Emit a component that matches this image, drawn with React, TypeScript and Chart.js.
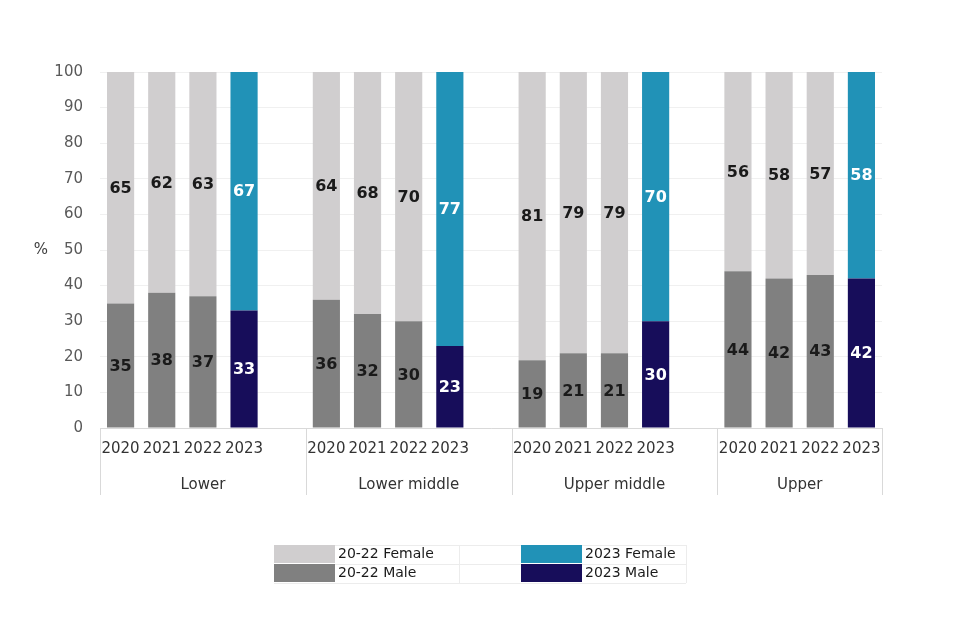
import React, { useEffect, useRef } from "react";
import { Chart, registerables } from "chart.js";

Chart.register(...registerables);

const groups = ["Lower", "Lower middle", "Upper middle", "Upper"];
const years = ["2020", "2021", "2022", "2023"];
const male2020to2022 = [35, 38, 37, 36, 32, 30, 19, 21, 21, 44, 42, 43];
const female2020to2022 = [65, 62, 63, 64, 68, 70, 81, 79, 79, 56, 58, 57];
const male2023 = [33, 23, 30, 42];
const female2023 = [67, 77, 70, 58];
const yTicks = [0, 10, 20, 30, 40, 50, 60, 70, 80, 90, 100];

const FONT = "'DejaVu Sans', sans-serif";

const C_LGREY = "#d0cecf";
const C_GREY = "#808080";
const C_BLUE = "#2192b7";
const C_NAVY = "#170d5a";

// build the category table: 4 years per group + an empty gap slot between groups
const labels: string[] = [];
const groupOf: number[] = [];
const dMale: (number | null)[] = [];
const dFemale: (number | null)[] = [];
const dMale23: (number | null)[] = [];
const dFemale23: (number | null)[] = [];
groups.forEach((g, gi) => {
  years.forEach((y, yi) => {
    labels.push(y);
    groupOf.push(gi);
    if (yi < 3) {
      dMale.push(male2020to2022[gi * 3 + yi]);
      dFemale.push(female2020to2022[gi * 3 + yi]);
      dMale23.push(null);
      dFemale23.push(null);
    } else {
      dMale.push(null);
      dFemale.push(null);
      dMale23.push(male2023[gi]);
      dFemale23.push(female2023[gi]);
    }
  });
  if (gi < groups.length - 1) {
    labels.push("");
    groupOf.push(gi);
    dMale.push(null);
    dFemale.push(null);
    dMale23.push(null);
    dFemale23.push(null);
  }
});

const valueLabels = {
  id: "valueLabels",
  afterDatasetsDraw(chart: any) {
    const ctx = chart.ctx;
    ctx.save();
    ctx.font = `bold 16px ${FONT}`;
    ctx.textAlign = "center";
    ctx.textBaseline = "middle";
    chart.data.datasets.forEach((ds: any, di: number) => {
      const meta = chart.getDatasetMeta(di);
      meta.data.forEach((el: any, i: number) => {
        const v = ds.data[i];
        if (v === null || v === undefined) return;
        const { x, y, base } = el.getProps(["x", "y", "base"], true);
        ctx.fillStyle = di >= 2 ? "#ffffff" : "#1a1a1a";
        ctx.fillText(String(v), x, (y + base) / 2 + 1);
      });
    });
    ctx.restore();
  },
};

const decorations = {
  id: "decorations",
  afterDraw(chart: any) {
    const ctx = chart.ctx;
    const xs = chart.scales.x;
    const ys = chart.scales.y;
    const area = chart.chartArea;
    ctx.save();
    // group dividers
    const step = (area.right - area.left) / labels.length;
    ctx.strokeStyle = "#d9d9d9";
    ctx.lineWidth = 1;
    const bounds: number[] = [area.left];
    for (let gi = 1; gi < groups.length; gi++) {
      const idx = labels.findIndex((_, i) => groupOf[i] === gi);
      bounds.push(xs.getPixelForValue(idx) - step / 2);
    }
    bounds.push(area.right);
    bounds.forEach((bx) => {
      ctx.beginPath();
      ctx.moveTo(Math.round(bx) + 0.5, area.bottom);
      ctx.lineTo(Math.round(bx) + 0.5, area.bottom + 67);
      ctx.stroke();
    });
    // group labels
    ctx.fillStyle = "#333333";
    ctx.font = `15px ${FONT}`;
    ctx.textAlign = "center";
    ctx.textBaseline = "middle";
    groups.forEach((g, gi) => {
      ctx.fillText(g, (bounds[gi] + bounds[gi + 1]) / 2, area.bottom + 57);
    });
    // % axis title
    ctx.fillStyle = "#404040";
    ctx.font = `15px ${FONT}`;
    ctx.fillText("%", 41, ys.getPixelForValue(50));

    // legend table
    const rowTop = 545;
    const rowH = 19;
    ctx.strokeStyle = "#ececec";
    ctx.beginPath();
    for (let r = 0; r <= 2; r++) {
      ctx.moveTo(274, rowTop + r * rowH + 0.5);
      ctx.lineTo(686, rowTop + r * rowH + 0.5);
    }
    ctx.moveTo(459.5, rowTop);
    ctx.lineTo(459.5, rowTop + 2 * rowH);
    ctx.moveTo(686.5, rowTop);
    ctx.lineTo(686.5, rowTop + 2 * rowH);
    ctx.stroke();
    const entries = [
      { label: chart.data.datasets[1].label, color: C_LGREY, x: 274, row: 0 },
      { label: chart.data.datasets[0].label, color: C_GREY, x: 274, row: 1 },
      { label: chart.data.datasets[3].label, color: C_BLUE, x: 521, row: 0 },
      { label: chart.data.datasets[2].label, color: C_NAVY, x: 521, row: 1 },
    ];
    ctx.font = `14px ${FONT}`;
    ctx.textAlign = "left";
    entries.forEach((e) => {
      ctx.fillStyle = e.color;
      ctx.fillRect(e.x, rowTop + e.row * rowH, 61, rowH - 1);
      ctx.fillStyle = "#1a1a1a";
      ctx.fillText(e.label, e.x + 64, rowTop + e.row * rowH + rowH / 2);
    });
    ctx.restore();
  },
};

export default function App() {
  const ref = useRef<HTMLCanvasElement | null>(null);
  useEffect(() => {
    document.body.style.margin = "0";
    if (!ref.current) return;
    const chart = new Chart(ref.current, {
      type: "bar",
      data: {
        labels,
        datasets: [
          { label: "20-22 Male", data: dMale, backgroundColor: C_GREY },
          { label: "20-22 Female", data: dFemale, backgroundColor: C_LGREY },
          { label: "2023 Male", data: dMale23, backgroundColor: C_NAVY },
          { label: "2023 Female", data: dFemale23, backgroundColor: C_BLUE },
        ],
      },
      options: {
        animation: false,
        responsive: true,
        maintainAspectRatio: false,
        datasets: { bar: { categoryPercentage: 1, barPercentage: 0.66 } },
        layout: { padding: { left: 40, right: 78, top: 72, bottom: 132 } },
        plugins: { legend: { display: false }, tooltip: { enabled: false } },
        scales: {
          x: {
            stacked: true,
            grid: { display: false, drawTicks: false },
            border: { display: true, color: "#d9d9d9" },
            afterFit: (s: any) => {
              s.height = 80;
            },
            ticks: {
              autoSkip: false,
              maxRotation: 0,
              padding: 12,
              color: "#333333",
              font: { family: FONT, size: 15 },
              callback: (_v: any, i: number) => labels[i],
            },
          },
          y: {
            stacked: true,
            min: 0,
            max: 100,
            afterFit: (s: any) => {
              s.width = 60;
            },
            afterBuildTicks: (s: any) => {
              s.ticks = yTicks.map((v) => ({ value: v }));
            },
            grid: { color: "#f0f0f0", drawTicks: false },
            border: { display: false },
            ticks: {
              padding: 17,
              color: "#595959",
              font: { family: FONT, size: 15 },
            },
          },
        },
      },
      plugins: [valueLabels, decorations],
    });
    return () => chart.destroy();
  }, []);
  return (
    <div style={{ width: 960, height: 640, position: "relative" }}>
      <canvas ref={ref} />
    </div>
  );
}
